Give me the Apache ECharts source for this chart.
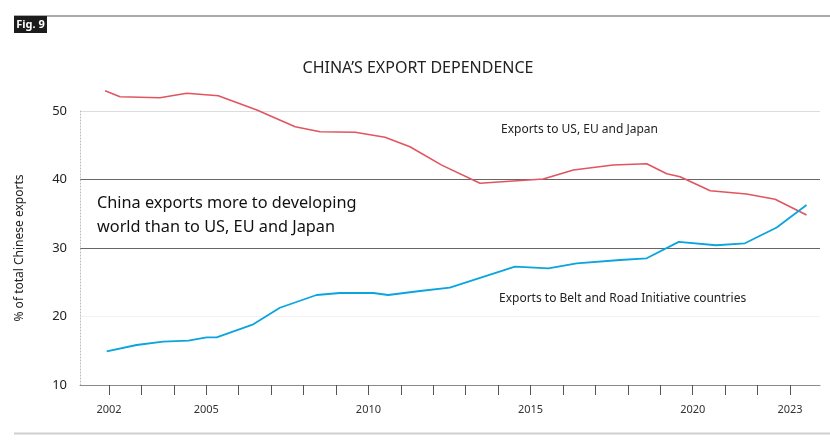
<!DOCTYPE html>
<html>
<head>
<meta charset="utf-8">
<script src="https://cdn.jsdelivr.net/npm/echarts@6/dist/echarts.min.js"></script>
<style>html,body{margin:0;padding:0;background:#fff;}#c{width:830px;height:446px;}</style>
</head>
<body>
<div id="c"></div>
<script>
// Data: [year position, % of total Chinese exports]
var usEuJapanYears = [2001.88, 2002.34, 2003.57, 2004.40, 2005.37, 2006.56, 2007.74, 2008.51, 2009.59, 2010.51, 2011.28, 2012.26, 2013.44, 2015.39, 2016.32, 2017.55, 2018.58, 2019.20, 2019.61, 2020.54, 2021.66, 2022.54, 2023.51];
var usEuJapanValues = [52.96, 52.09, 51.94, 52.58, 52.23, 50.15, 47.71, 46.98, 46.89, 46.16, 44.79, 42.10, 39.45, 40.07, 41.39, 42.12, 42.31, 40.84, 40.40, 38.36, 37.88, 37.11, 34.82];
var briYears = [2001.93, 2002.85, 2003.67, 2004.45, 2005.01, 2005.32, 2006.45, 2007.27, 2008.40, 2009.12, 2010.15, 2010.61, 2011.59, 2012.51, 2014.52, 2015.55, 2016.42, 2017.76, 2018.58, 2019.57, 2020.72, 2021.61, 2022.59, 2023.51];
var briValues = [14.92, 15.84, 16.32, 16.47, 16.96, 16.96, 18.86, 21.28, 23.14, 23.43, 23.43, 23.14, 23.72, 24.20, 27.27, 27.04, 27.77, 28.25, 28.50, 30.90, 30.40, 30.69, 33.00, 36.28];
var xTickYears = [2002, 2003, 2004, 2005, 2006, 2007, 2008, 2009, 2010, 2011, 2012, 2013, 2014, 2015, 2016, 2017, 2018, 2019, 2020, 2021, 2022, 2023];
var xLabelYears = [2002, 2005, 2010, 2015, 2020, 2023];
var yTicks = [10, 20, 30, 40, 50];

function pairs(xs, ys) { return xs.map(function (x, i) { return [x, ys[i]]; }); }

var FONT = '"Noto Sans", "Open Sans", sans-serif';
var chart = echarts.init(document.getElementById('c'), null, { renderer: 'canvas' });
chart.setOption({
  animation: false,
  backgroundColor: '#fff',
  textStyle: { fontFamily: FONT },
  grid: { left: 80, right: 10, top: 111, bottom: 61, containLabel: false },
  xAxis: {
    type: 'value',
    min: 2001.106,
    max: 2023.925,
    axisLine: { show: true, lineStyle: { color: '#8a8a8a', width: 1 } },
    axisTick: { show: true, customValues: xTickYears, length: 10, inside: false, lineStyle: { color: '#555', width: 1 } },
    axisLabel: { customValues: xLabelYears, margin: 19, fontSize: 11, color: '#333', fontFamily: FONT, formatter: function (v) { return String(v); } },
    splitLine: { show: false }
  },
  yAxis: {
    type: 'value',
    min: yTicks[0],
    max: yTicks[yTicks.length - 1],
    interval: 10,
    name: '% of total Chinese exports',
    nameLocation: 'middle',
    nameGap: 54,
    nameRotate: 90,
    nameTextStyle: { fontSize: 12, color: '#222', fontFamily: FONT },
    axisLine: { show: true, lineStyle: { color: '#bbb', type: [1, 2], width: 1 } },
    axisTick: { show: false },
    axisLabel: { margin: 13, fontSize: 13, color: '#222', fontFamily: FONT },
    splitLine: { show: true, lineStyle: { color: ['#8a8a8a', '#f2f2f2', '#666', '#666', '#dcdcdc'], width: 1 } }
  },
  series: [
    {
      name: 'Exports to US, EU and Japan',
      type: 'line',
      data: pairs(usEuJapanYears, usEuJapanValues),
      showSymbol: false,
      clip: false,
      lineStyle: { color: '#e05560', width: 1.6 },
      z: 3
    },
    {
      name: 'Exports to Belt and Road Initiative countries',
      type: 'line',
      data: pairs(briYears, briValues),
      showSymbol: false,
      clip: false,
      lineStyle: { color: '#0aa5dc', width: 1.8 },
      z: 4
    }
  ],
  graphic: [
    { type: 'line', shape: { x1: 14, y1: 16, x2: 830, y2: 16 }, style: { stroke: '#8c8c8c', lineWidth: 1.5 } },
    { type: 'rect', shape: { x: 14, y: 16, width: 33, height: 17 }, style: { fill: '#1c1c1c' } },
    { type: 'text', x: 30.5, y: 24.5, style: { text: 'Fig. 9', fill: '#fff', font: 'bold 11px ' + FONT, align: 'center', verticalAlign: 'middle' } },
    { type: 'text', x: 418, y: 68, style: { text: 'CHINA\u2019S EXPORT DEPENDENCE', fill: '#222', font: '16px ' + FONT, align: 'center', verticalAlign: 'middle' } },
    { type: 'text', x: 97, y: 203, style: { text: 'China exports more to developing', fill: '#111', font: '16.3px ' + FONT, align: 'left', verticalAlign: 'middle' } },
    { type: 'text', x: 97, y: 227, style: { text: 'world than to US, EU and Japan', fill: '#111', font: '16.3px ' + FONT, align: 'left', verticalAlign: 'middle' } },
    { type: 'text', x: 501, y: 130, style: { text: 'Exports to US, EU and Japan', fill: '#222', font: '12px ' + FONT, align: 'left', verticalAlign: 'middle' } },
    { type: 'text', x: 499, y: 299, style: { text: 'Exports to Belt and Road Initiative countries', fill: '#222', font: '12px ' + FONT, align: 'left', verticalAlign: 'middle' } },
    { type: 'line', shape: { x1: 14, y1: 433.5, x2: 830, y2: 433.5 }, style: { stroke: '#d0d0d0', lineWidth: 2 } }
  ]
});
</script>
</body>
</html>
